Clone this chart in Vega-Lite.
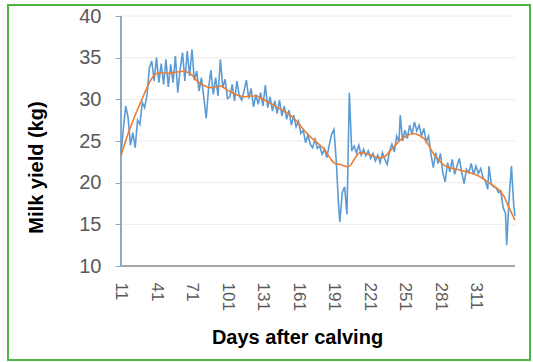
{
  "$schema": "https://vega.github.io/schema/vega-lite/v6.json",
  "width": 522,
  "height": 355,
  "autosize": {"type": "none"},
  "padding": {"left": 8, "top": 5, "right": 3, "bottom": 2},
  "background": "white",
  "config": {
    "view": {"stroke": "#4cb544", "strokeWidth": 2},
    "font": "Liberation Sans"
  },
  "datasets": {
    "grid": [{"milk": 15}, {"milk": 20}, {"milk": 25}, {"milk": 30}, {"milk": 35}, {"milk": 40}],
    "actual": [
      {"day": 11, "milk": 23.4}, {"day": 13, "milk": 26.5}, {"day": 15, "milk": 29.2}, {"day": 17, "milk": 27.8},
      {"day": 19, "milk": 24.5}, {"day": 21, "milk": 26.0}, {"day": 23, "milk": 24.2}, {"day": 25, "milk": 27.5},
      {"day": 27, "milk": 27.0}, {"day": 29, "milk": 29.6}, {"day": 31, "milk": 29.0}, {"day": 33, "milk": 30.5},
      {"day": 35, "milk": 33.8}, {"day": 37, "milk": 34.6}, {"day": 39, "milk": 32.2}, {"day": 41, "milk": 35.0},
      {"day": 43, "milk": 32.0}, {"day": 45, "milk": 34.3}, {"day": 47, "milk": 31.8}, {"day": 49, "milk": 34.8},
      {"day": 51, "milk": 31.5}, {"day": 53, "milk": 34.2}, {"day": 55, "milk": 32.0}, {"day": 57, "milk": 35.2},
      {"day": 59, "milk": 30.8}, {"day": 61, "milk": 33.6}, {"day": 63, "milk": 35.6}, {"day": 65, "milk": 32.2},
      {"day": 67, "milk": 35.8}, {"day": 69, "milk": 32.8}, {"day": 71, "milk": 36.0}, {"day": 73, "milk": 32.3},
      {"day": 75, "milk": 33.4}, {"day": 77, "milk": 31.0}, {"day": 79, "milk": 32.6}, {"day": 81, "milk": 30.2},
      {"day": 83, "milk": 27.7}, {"day": 85, "milk": 31.3}, {"day": 87, "milk": 33.5}, {"day": 89, "milk": 30.6},
      {"day": 91, "milk": 32.6}, {"day": 93, "milk": 30.4}, {"day": 95, "milk": 34.8}, {"day": 97, "milk": 31.4},
      {"day": 99, "milk": 32.4}, {"day": 101, "milk": 30.1}, {"day": 103, "milk": 30.3}, {"day": 105, "milk": 31.8},
      {"day": 107, "milk": 29.8}, {"day": 109, "milk": 32.2}, {"day": 111, "milk": 30.4}, {"day": 113, "milk": 29.9},
      {"day": 115, "milk": 31.0}, {"day": 117, "milk": 32.3}, {"day": 119, "milk": 30.1}, {"day": 121, "milk": 31.3},
      {"day": 123, "milk": 29.1}, {"day": 125, "milk": 30.6}, {"day": 127, "milk": 29.4}, {"day": 129, "milk": 30.8},
      {"day": 131, "milk": 29.2}, {"day": 133, "milk": 31.7}, {"day": 135, "milk": 29.0}, {"day": 137, "milk": 30.3},
      {"day": 139, "milk": 28.6}, {"day": 141, "milk": 29.8}, {"day": 143, "milk": 28.3}, {"day": 145, "milk": 29.9},
      {"day": 147, "milk": 28.0}, {"day": 149, "milk": 29.2}, {"day": 151, "milk": 27.6}, {"day": 153, "milk": 28.7},
      {"day": 155, "milk": 26.9}, {"day": 157, "milk": 28.1}, {"day": 159, "milk": 26.7}, {"day": 161, "milk": 27.4},
      {"day": 163, "milk": 25.9}, {"day": 165, "milk": 26.3}, {"day": 167, "milk": 24.8}, {"day": 169, "milk": 25.7},
      {"day": 171, "milk": 24.6}, {"day": 173, "milk": 24.2}, {"day": 175, "milk": 25.2}, {"day": 177, "milk": 24.1},
      {"day": 179, "milk": 24.4}, {"day": 181, "milk": 23.4}, {"day": 183, "milk": 24.0}, {"day": 185, "milk": 23.0},
      {"day": 187, "milk": 24.5}, {"day": 189, "milk": 25.8}, {"day": 191, "milk": 26.4}, {"day": 193, "milk": 22.5},
      {"day": 195, "milk": 17.0}, {"day": 196, "milk": 15.3}, {"day": 198, "milk": 18.8}, {"day": 200, "milk": 19.5},
      {"day": 202, "milk": 16.2}, {"day": 204, "milk": 30.8}, {"day": 206, "milk": 23.8}, {"day": 208, "milk": 24.4},
      {"day": 210, "milk": 23.6}, {"day": 212, "milk": 24.5}, {"day": 214, "milk": 23.3}, {"day": 216, "milk": 24.0},
      {"day": 218, "milk": 23.2}, {"day": 220, "milk": 23.8}, {"day": 222, "milk": 22.9}, {"day": 224, "milk": 23.5},
      {"day": 226, "milk": 22.6}, {"day": 228, "milk": 23.3}, {"day": 230, "milk": 22.4}, {"day": 232, "milk": 23.6},
      {"day": 234, "milk": 22.8}, {"day": 236, "milk": 22.2}, {"day": 238, "milk": 23.8}, {"day": 240, "milk": 24.6},
      {"day": 242, "milk": 23.7}, {"day": 244, "milk": 25.6}, {"day": 246, "milk": 24.9}, {"day": 247, "milk": 28.1},
      {"day": 249, "milk": 25.0}, {"day": 251, "milk": 26.3}, {"day": 253, "milk": 25.3}, {"day": 255, "milk": 26.9},
      {"day": 257, "milk": 25.8}, {"day": 259, "milk": 27.3}, {"day": 261, "milk": 26.2}, {"day": 263, "milk": 26.9},
      {"day": 265, "milk": 25.6}, {"day": 267, "milk": 26.5}, {"day": 269, "milk": 24.9}, {"day": 271, "milk": 25.6},
      {"day": 273, "milk": 23.4}, {"day": 275, "milk": 21.8}, {"day": 277, "milk": 23.6}, {"day": 279, "milk": 22.3},
      {"day": 281, "milk": 23.5}, {"day": 283, "milk": 21.2}, {"day": 285, "milk": 20.1}, {"day": 287, "milk": 22.4},
      {"day": 289, "milk": 21.3}, {"day": 291, "milk": 22.8}, {"day": 293, "milk": 21.0}, {"day": 295, "milk": 22.0},
      {"day": 297, "milk": 22.9}, {"day": 299, "milk": 21.2}, {"day": 301, "milk": 19.9}, {"day": 303, "milk": 21.6},
      {"day": 305, "milk": 21.2}, {"day": 307, "milk": 22.3}, {"day": 309, "milk": 21.0}, {"day": 311, "milk": 22.0},
      {"day": 313, "milk": 21.1}, {"day": 315, "milk": 21.7}, {"day": 317, "milk": 20.6}, {"day": 319, "milk": 20.2},
      {"day": 321, "milk": 19.2}, {"day": 322, "milk": 22.0}, {"day": 324, "milk": 19.8}, {"day": 326, "milk": 19.5},
      {"day": 328, "milk": 19.4}, {"day": 330, "milk": 18.8}, {"day": 332, "milk": 19.0}, {"day": 334, "milk": 17.0},
      {"day": 336, "milk": 16.3}, {"day": 337, "milk": 12.5}, {"day": 339, "milk": 18.0}, {"day": 341, "milk": 22.0},
      {"day": 343, "milk": 17.2}, {"day": 344, "milk": 16.0}
    ],
    "fitted": [
      {"day": 11, "milk": 23.2}, {"day": 14, "milk": 24.6}, {"day": 17, "milk": 25.9}, {"day": 20, "milk": 27.0},
      {"day": 23, "milk": 28.1}, {"day": 26, "milk": 29.1}, {"day": 29, "milk": 30.1}, {"day": 32, "milk": 31.1},
      {"day": 35, "milk": 32.0}, {"day": 38, "milk": 32.7}, {"day": 41, "milk": 33.1}, {"day": 45, "milk": 33.2},
      {"day": 50, "milk": 33.1}, {"day": 55, "milk": 33.2}, {"day": 60, "milk": 33.3}, {"day": 64, "milk": 33.4},
      {"day": 68, "milk": 33.2}, {"day": 71, "milk": 32.9}, {"day": 74, "milk": 32.4}, {"day": 78, "milk": 31.9},
      {"day": 82, "milk": 31.6}, {"day": 87, "milk": 31.4}, {"day": 91, "milk": 31.5}, {"day": 95, "milk": 31.6},
      {"day": 100, "milk": 31.2}, {"day": 106, "milk": 30.7}, {"day": 110, "milk": 30.5}, {"day": 115, "milk": 30.3},
      {"day": 120, "milk": 30.4}, {"day": 126, "milk": 30.4}, {"day": 130, "milk": 30.1}, {"day": 135, "milk": 29.7},
      {"day": 140, "milk": 29.3}, {"day": 145, "milk": 28.9}, {"day": 150, "milk": 28.5}, {"day": 155, "milk": 28.0},
      {"day": 160, "milk": 27.3}, {"day": 165, "milk": 26.4}, {"day": 171, "milk": 25.5}, {"day": 176, "milk": 24.9},
      {"day": 180, "milk": 24.4}, {"day": 183, "milk": 24.0}, {"day": 186, "milk": 23.3}, {"day": 189, "milk": 22.7},
      {"day": 192, "milk": 22.3}, {"day": 196, "milk": 22.2}, {"day": 200, "milk": 22.0}, {"day": 203, "milk": 21.9},
      {"day": 206, "milk": 22.3}, {"day": 209, "milk": 23.0}, {"day": 213, "milk": 23.6}, {"day": 218, "milk": 23.5},
      {"day": 223, "milk": 23.3}, {"day": 228, "milk": 23.0}, {"day": 232, "milk": 23.0}, {"day": 236, "milk": 23.4},
      {"day": 239, "milk": 23.9}, {"day": 243, "milk": 24.5}, {"day": 247, "milk": 25.1}, {"day": 252, "milk": 25.6},
      {"day": 258, "milk": 25.9}, {"day": 263, "milk": 25.7}, {"day": 267, "milk": 25.3}, {"day": 271, "milk": 24.5},
      {"day": 275, "milk": 23.5}, {"day": 279, "milk": 22.8}, {"day": 284, "milk": 22.1}, {"day": 289, "milk": 21.8},
      {"day": 295, "milk": 21.6}, {"day": 300, "milk": 21.4}, {"day": 306, "milk": 21.2}, {"day": 312, "milk": 20.9},
      {"day": 318, "milk": 20.4}, {"day": 323, "milk": 19.9}, {"day": 328, "milk": 19.4}, {"day": 332, "milk": 18.9},
      {"day": 335, "milk": 18.3}, {"day": 338, "milk": 17.3}, {"day": 341, "milk": 16.4}, {"day": 344, "milk": 15.5}
    ]
  },
  "layer": [
    {
      "data": {"name": "actual"},
      "mark": {"type": "line", "color": "#5b9bd5", "strokeWidth": 1.6, "opacity": 0},
      "encoding": {
        "x": {
          "field": "day", "type": "quantitative",
          "scale": {"domain": [-84.5, 356.7], "nice": false, "zero": false},
          "axis": {
            "values": [11, 41, 71, 101, 131, 161, 191, 221, 251, 281, 311],
            "offset": -94, "domain": false, "grid": false, "ticks": false,
            "labelAngle": 90, "labelAlign": "left", "labelBaseline": "middle",
            "labelFontSize": 17, "labelColor": "#595959", "labelPadding": 16, "labelFont": "Liberation Sans",
            "title": "Days after calving", "titleFontSize": 20, "titleFontWeight": "bold", "titleColor": "#000000",
            "titleX": 289, "titleY": 77, "titleBaseline": "alphabetic", "titleAlign": "center", "titleAnchor": null
          }
        },
        "y": {
          "field": "milk", "type": "quantitative",
          "scale": {"domain": [-1.28, 41.32], "nice": false, "zero": false},
          "axis": {
            "values": [10, 15, 20, 25, 30, 35, 40],
            "offset": -113, "domain": false, "grid": false, "ticks": true,
            "tickSize": 6, "tickColor": "#8aaec8", "tickWidth": 1,
            "labelFontSize": 20, "labelColor": "#595959", "labelPadding": 14, "labelFont": "Liberation Sans",
            "title": "Milk yield (kg)", "titleFontSize": 20, "titleFontWeight": "bold", "titleColor": "#000000",
            "titleX": -79, "titleY": 162, "titleAngle": -90, "titleBaseline": "alphabetic", "titleAlign": "center", "titleAnchor": null
          }
        }
      }
    },
    {
      "data": {"name": "grid"},
      "mark": {"type": "rule", "color": "#ececec", "strokeWidth": 1},
      "encoding": {
        "y": {"field": "milk", "type": "quantitative"},
        "x": {"datum": 11},
        "x2": {"datum": 344}
      }
    },
    {
      "data": {"name": "grid"},
      "mark": {"type": "rule", "color": "#a6a6a6", "strokeWidth": 1.2},
      "encoding": {
        "y": {"datum": 10},
        "x": {"datum": 11},
        "x2": {"datum": 344}
      }
    },
    {
      "data": {"name": "grid"},
      "mark": {"type": "rule", "color": "#8aaec8", "strokeWidth": 1.2},
      "encoding": {
        "x": {"datum": 11},
        "y": {"datum": 10},
        "y2": {"datum": 40}
      }
    },
    {
      "data": {"name": "actual"},
      "mark": {"type": "line", "color": "#5b9bd5", "strokeWidth": 1.6},
      "encoding": {
        "x": {"field": "day", "type": "quantitative"},
        "y": {"field": "milk", "type": "quantitative"}
      }
    },
    {
      "data": {"name": "fitted"},
      "mark": {"type": "line", "color": "#ed7d31", "strokeWidth": 1.6, "interpolate": "monotone"},
      "encoding": {
        "x": {"field": "day", "type": "quantitative"},
        "y": {"field": "milk", "type": "quantitative"}
      }
    }
  ]
}
